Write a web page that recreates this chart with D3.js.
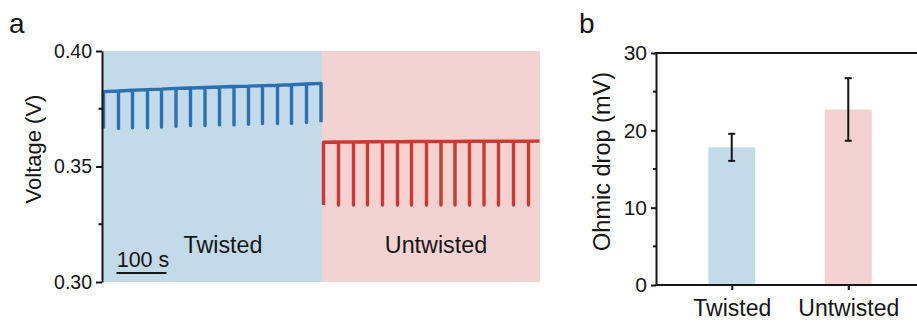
<!DOCTYPE html>
<html>
<head>
<meta charset="utf-8">
<script src="https://cdn.jsdelivr.net/npm/d3@7"></script>
<style>
  html, body { margin: 0; padding: 0; background: #fff; }
  svg { display: block; font-family: "Liberation Sans", Arial, sans-serif; }
</style>
</head>
<body>
<svg id="fig" width="917" height="322"></svg>
<script>
// ---- Panel a: voltage traces during current interruptions ----
const segmentNames = ["Twisted", "Untwisted"];
const segmentStart = [0, 438];
const segmentEnd = [438, 874];

// Twisted trace: interruption times (s), voltage before each drop and at the bottom of the drop (V)
const twistedTimes = [1, 31, 59, 89, 117, 146, 175, 204, 233, 262, 291, 319, 349, 377, 407, 436];
const twistedTop = [0.3824, 0.3827, 0.3830, 0.3833, 0.3835, 0.3838, 0.3840, 0.3842,
                    0.3844, 0.3846, 0.3848, 0.3850, 0.3852, 0.3854, 0.3857, 0.3860];
const twistedDrop = [0.3665, 0.3665, 0.3668, 0.3668, 0.3671, 0.3674, 0.3677, 0.3677,
                     0.3680, 0.3680, 0.3683, 0.3686, 0.3686, 0.3686, 0.3690, 0.3692];

// Untwisted trace
const untwistedTimes = [441, 471, 501, 529, 559, 589, 617, 647, 676, 704, 733, 762, 791, 821, 851];
const untwistedTop = [0.3605, 0.3606, 0.3606, 0.3607, 0.3607, 0.3607, 0.3608, 0.3608,
                      0.3608, 0.3608, 0.3609, 0.3609, 0.3609, 0.3609, 0.3610];
const untwistedDrop = [0.3333, 0.3333, 0.3333, 0.3333, 0.3333, 0.3333, 0.3333, 0.3333,
                       0.3333, 0.3333, 0.3333, 0.3333, 0.3333, 0.3333, 0.3333];
const untwistedEndTime = 873;
const untwistedEndV = 0.3610;

const voltageTicks = [0.30, 0.35, 0.40];
const voltageMinorTicks = [0.325, 0.375];
const scaleBarSeconds = 100;
const scaleBarStart = 27;

// ---- Panel b: ohmic drop ----
const samples = ["Twisted", "Untwisted"];
const ohmicDrop = [17.8, 22.7];
const ohmicErr = [1.75, 4.05];
const ohmicTicks = [0, 10, 20, 30];
const ohmicMinorTicks = [5, 15, 25];

const blueFill = "#c3dbe9";
const pinkFill = "#f2d3d2";
const blueLine = "#2b70b4";
const redLine = "#cf3830";
const ink = "#151515";

const svg = d3.select("#fig");

// ===== Panel a =====
const xA = d3.scaleLinear().domain([0, 874]).range([103, 540]);
const yA = d3.scaleLinear().domain([0.30, 0.40]).range([282, 51]);
const gA = svg.append("g");

gA.selectAll("rect.seg")
  .data(segmentNames)
  .join("rect")
  .attr("class", "seg")
  .attr("x", (d, i) => xA(segmentStart[i]))
  .attr("width", (d, i) => xA(segmentEnd[i]) - xA(segmentStart[i]))
  .attr("y", yA(0.40))
  .attr("height", yA(0.30) - yA(0.40))
  .attr("fill", (d, i) => i === 0 ? blueFill : pinkFill);

function tracePoints(times, top, drop, endTime, endV) {
  const pts = [];
  const n = times.length;
  times.forEach((t, i) => {
    if (i > 0) pts.push([t, top[i]]);
    pts.push([t, drop[i]]);
    if (i < n - 1 || endTime !== undefined) pts.push([t, top[i]]);
  });
  if (endTime !== undefined) pts.push([endTime, endV]);
  return pts;
}

const line = d3.line().x(d => xA(d[0])).y(d => yA(d[1]));

gA.append("path")
  .attr("d", line(tracePoints(twistedTimes, twistedTop, twistedDrop)))
  .attr("fill", "none").attr("stroke", blueLine).attr("stroke-width", 3.4)
  .attr("stroke-linejoin", "round");

gA.append("path")
  .attr("d", line(tracePoints(untwistedTimes, untwistedTop, untwistedDrop, untwistedEndTime, untwistedEndV)))
  .attr("fill", "none").attr("stroke", redLine).attr("stroke-width", 3.4)
  .attr("stroke-linejoin", "round");

// left axis
const axA = gA.append("g").attr("transform", "translate(102,0)")
  .call(d3.axisLeft(yA).tickValues(voltageTicks).tickFormat(d3.format(".2f"))
    .tickSize(6).tickSizeOuter(0).tickPadding(4));
axA.select(".domain").attr("stroke", ink).attr("stroke-width", 2);
axA.selectAll(".tick line").attr("stroke", ink).attr("stroke-width", 2);
axA.selectAll(".tick text").attr("fill", ink).attr("font-size", 19.5)
  .attr("font-family", "Liberation Sans, Arial, sans-serif");
axA.selectAll("line.minor").data(voltageMinorTicks).join("line")
  .attr("class", "minor")
  .attr("x1", -3.5).attr("x2", 0)
  .attr("y1", d => yA(d)).attr("y2", d => yA(d))
  .attr("stroke", ink).attr("stroke-width", 2);

svg.append("text")
  .attr("transform", "translate(41,149) rotate(-90)")
  .attr("text-anchor", "middle").attr("font-size", 22).attr("fill", ink)
  .text("Voltage (V)");

// segment labels
gA.selectAll("text.seglabel").data(segmentNames).join("text")
  .attr("class", "seglabel")
  .attr("x", (d, i) => i === 0 ? 223 : 436)
  .attr("y", 253)
  .attr("text-anchor", "middle").attr("font-size", 23.3).attr("fill", ink)
  .text(d => d);

// time scale bar
gA.append("line")
  .attr("x1", xA(scaleBarStart)).attr("x2", xA(scaleBarStart + scaleBarSeconds))
  .attr("y1", 273).attr("y2", 273)
  .attr("stroke", ink).attr("stroke-width", 2);
gA.append("text")
  .attr("x", (xA(scaleBarStart) + xA(scaleBarStart + scaleBarSeconds)) / 2 + 1.5)
  .attr("y", 266.5)
  .attr("text-anchor", "middle").attr("font-size", 21.5).attr("fill", ink)
  .text(scaleBarSeconds + " s");

svg.append("text").attr("x", 9).attr("y", 33)
  .attr("font-size", 28).attr("fill", ink).text("a");

// ===== Panel b =====
const xB = d3.scalePoint().domain(samples).range([656, 924]).padding(0.65);
const yB = d3.scaleLinear().domain([0, 30]).range([285, 53]);
const gB = svg.append("g");
const barW = 47;

gB.selectAll("rect.bar").data(samples).join("rect")
  .attr("class", "bar")
  .attr("x", d => xB(d) - barW / 2)
  .attr("width", barW)
  .attr("y", (d, i) => yB(ohmicDrop[i]))
  .attr("height", (d, i) => yB(0) - yB(ohmicDrop[i]))
  .attr("fill", (d, i) => i === 0 ? blueFill : pinkFill);

// error bars
const errG = gB.selectAll("g.err").data(samples).join("g").attr("class", "err");
errG.append("line")
  .attr("x1", d => xB(d)).attr("x2", d => xB(d))
  .attr("y1", (d, i) => yB(ohmicDrop[i] + ohmicErr[i]))
  .attr("y2", (d, i) => yB(ohmicDrop[i] - ohmicErr[i]))
  .attr("stroke", ink).attr("stroke-width", 2);
[1, -1].forEach(s => {
  errG.append("line")
    .attr("x1", d => xB(d) - 3.5).attr("x2", d => xB(d) + 3.5)
    .attr("y1", (d, i) => yB(ohmicDrop[i] + s * ohmicErr[i]))
    .attr("y2", (d, i) => yB(ohmicDrop[i] + s * ohmicErr[i]))
    .attr("stroke", ink).attr("stroke-width", 2);
});

// frame lines (top and bottom run past the right edge)
gB.append("line").attr("x1", 655).attr("x2", 930).attr("y1", yB(30)).attr("y2", yB(30))
  .attr("stroke", ink).attr("stroke-width", 2);

const axB = gB.append("g").attr("transform", "translate(656,0)")
  .call(d3.axisLeft(yB).tickValues(ohmicTicks).tickSize(5).tickSizeOuter(0).tickPadding(4));
axB.select(".domain").attr("stroke", ink).attr("stroke-width", 2);
axB.selectAll(".tick line").attr("stroke", ink).attr("stroke-width", 2);
axB.selectAll(".tick text").attr("fill", ink).attr("font-size", 21)
  .attr("font-family", "Liberation Sans, Arial, sans-serif");
axB.selectAll("line.minor").data(ohmicMinorTicks).join("line")
  .attr("class", "minor")
  .attr("x1", -3).attr("x2", 0)
  .attr("y1", d => yB(d)).attr("y2", d => yB(d))
  .attr("stroke", ink).attr("stroke-width", 2);

const axBx = gB.append("g").attr("transform", `translate(0,${yB(0)})`)
  .call(d3.axisBottom(xB).tickSize(5).tickSizeOuter(0).tickPadding(10));
axBx.select(".domain").attr("d", "M655,0H930").attr("stroke", ink).attr("stroke-width", 2);
axBx.selectAll(".tick line").attr("stroke", ink).attr("stroke-width", 2);
axBx.selectAll(".tick text").attr("fill", ink).attr("font-size", 23)
  .attr("font-family", "Liberation Sans, Arial, sans-serif");

svg.append("text")
  .attr("transform", "translate(610,161.5) rotate(-90)")
  .attr("text-anchor", "middle").attr("font-size", 23.5).attr("fill", ink)
  .text("Ohmic drop (mV)");

svg.append("text").attr("x", 579).attr("y", 33)
  .attr("font-size", 28).attr("fill", ink).text("b");
</script>
</body>
</html>
